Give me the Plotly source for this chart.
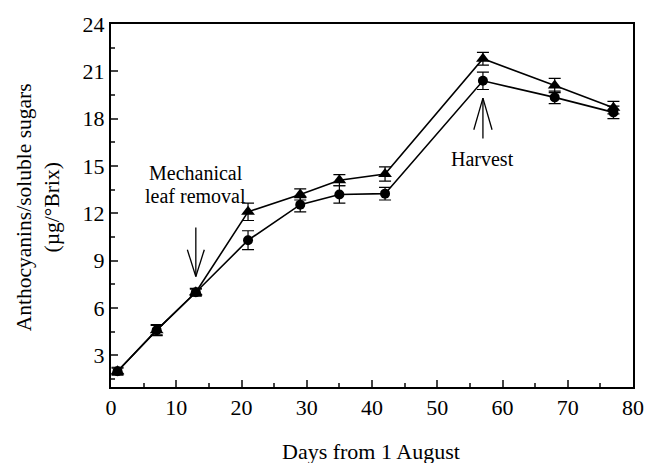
import plotly.graph_objects as go

days = [1, 7, 13, 21, 29, 35, 42, 57, 68, 77]
tri_vals = [2.0, 4.6, 7.0, 12.1, 13.2, 14.1, 14.5, 21.8, 20.1, 18.7]
tri_err = [0.25, 0.35, 0.25, 0.55, 0.35, 0.35, 0.45, 0.4, 0.45, 0.4]
cir_vals = [2.0, 4.6, 7.0, 10.3, 12.55, 13.2, 13.25, 20.4, 19.35, 18.4]
cir_err = [0.2, 0.3, 0.2, 0.6, 0.45, 0.55, 0.4, 0.55, 0.4, 0.4]

x_ticks = [0, 10, 20, 30, 40, 50, 60, 70, 80]
y_ticks = [3, 6, 9, 12, 15, 18, 21, 24]

FONT = "Liberation Serif, Times New Roman, DejaVu Serif, serif"

fig = go.Figure()
fig.add_trace(go.Scatter(
    x=days, y=cir_vals, mode="lines+markers",
    line=dict(color="black", width=1.6),
    marker=dict(symbol="circle", size=10, color="black"),
    error_y=dict(type="data", array=cir_err, visible=True, color="black", thickness=1.2, width=6),
    showlegend=False))
fig.add_trace(go.Scatter(
    x=days, y=tri_vals, mode="lines+markers",
    line=dict(color="black", width=1.6),
    marker=dict(symbol="triangle-up", size=12, color="black"),
    error_y=dict(type="data", array=tri_err, visible=True, color="black", thickness=1.2, width=6),
    showlegend=False))

def arrow(x, y_tail, y_tip, hw, hh):
    shapes = [
        dict(type="line", x0=x, x1=x, y0=y_tail, y1=y_tip),
        dict(type="line", x0=x, x1=x - hw, y0=y_tip, y1=y_tip + hh),
        dict(type="line", x0=x, x1=x + hw, y0=y_tip, y1=y_tip + hh),
    ]
    for s in shapes:
        s.update(xref="x", yref="y", line=dict(color="black", width=1.3))
    return shapes

shapes = arrow(13, 11.1, 8.0, 1.3, 1.7) + arrow(57, 16.75, 19.3, 1.4, -2.0)

fig.add_annotation(x=13, y=14.55, xref="x", yref="y",
                   text="Mechanical", showarrow=False,
                   font=dict(family=FONT, size=20, color="black"))
fig.add_annotation(x=13, y=13.1, xref="x", yref="y",
                   text="leaf removal", showarrow=False,
                   font=dict(family=FONT, size=20, color="black"))
fig.add_annotation(x=57, y=15.45, xref="x", yref="y",
                   text="Harvest", showarrow=False,
                   font=dict(family=FONT, size=20, color="black"))

# axis titles
fig.add_annotation(x=-0.1384, y=0.4946, xref="paper", yref="paper",
                   xanchor="center", yanchor="middle", textangle=-90,
                   text="Anthocyanins/soluble sugars<br>(µg/°Brix)", showarrow=False,
                   font=dict(family=FONT, size=21.5, color="black"), align="center")
fig.add_annotation(x=0.499, y=-0.1766, xref="paper", yref="paper",
                   xanchor="center", yanchor="middle",
                   text="Days from 1 August", showarrow=False,
                   font=dict(family=FONT, size=22, color="black"))

fig.update_layout(
    width=656, height=463,
    margin=dict(l=111, r=21, t=19, b=76),
    paper_bgcolor="white", plot_bgcolor="white",
    font=dict(family=FONT, size=20, color="black"),
    shapes=shapes,
    xaxis=dict(range=[0, 80], tickvals=x_ticks, ticks="inside", ticklen=7, tickwidth=1.5,
               showline=True, linecolor="black", linewidth=2, mirror=True,
               showgrid=False, zeroline=False,
               minor=dict(dtick=5, tick0=0, ticks="inside", ticklen=4, tickwidth=1.5, showgrid=False),
               tickfont=dict(family=FONT, size=22)),
    yaxis=dict(range=[1, 24], tickvals=y_ticks, ticks="inside", ticklen=7, tickwidth=1.5,
               showline=True, linecolor="black", linewidth=2, mirror=True,
               showgrid=False, zeroline=False,
               minor=dict(dtick=1.5, tick0=0, ticks="inside", ticklen=4, tickwidth=1.5, showgrid=False),
               tickfont=dict(family=FONT, size=22)),
)

fig.write_html("out.html")
